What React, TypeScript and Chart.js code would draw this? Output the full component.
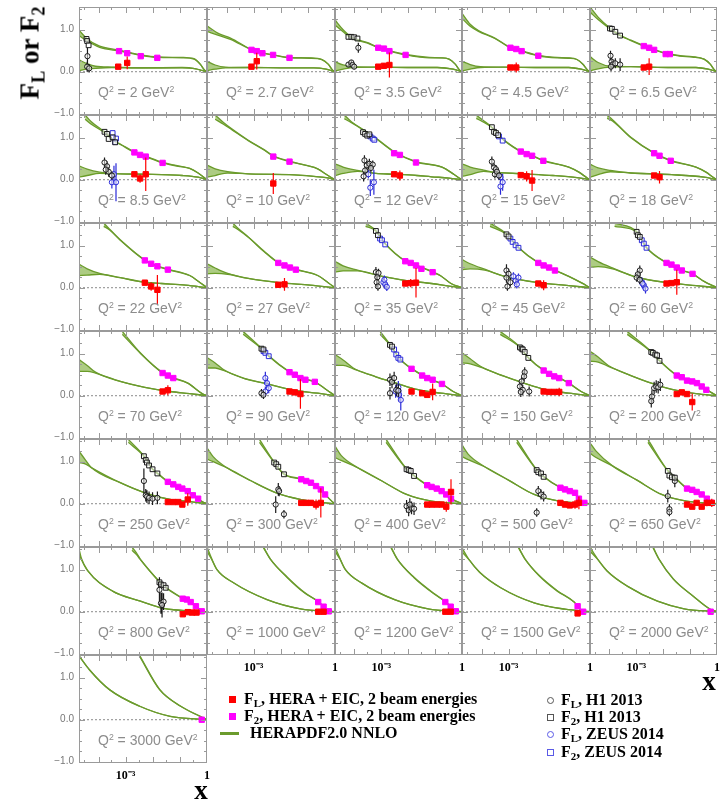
import React, { useEffect, useRef } from 'react';
import { Chart, registerables } from 'chart.js';

Chart.register(...registerables);

type XY = [number, number];
type XYE = [number, number, number];
type Band = [number, number, number][]; // [x, low, high]

// ---------- axes ----------
const X_MIN = 1.9e-5;
const X_MAX = 1;
const Y_MIN = -1.03;
const Y_MAX = 1.54;
const X_TICK_VALUES = [1e-3, 1];
const X_TICK_TEXT = ['10\u207B\u00B3', '1'];
const X_MAJOR = [1e-4, 1e-3, 1e-2, 1e-1];
const X_MINOR = [3e-5, 3e-4, 3e-3, 3e-2, 3e-1];
const Y_TICK_VALUES = [-1, 0, 1];
const Y_TICK_TEXT = ['\u22121.0', '0.0', '1.0'];
const Y_MINOR = [-0.75, -0.5, -0.25, 0.25, 0.5, 0.75, 1.25, 1.5];

// ---------- panels ----------
const Q2_LABELS = ['2', '2.7', '3.5', '4.5', '6.5', '8.5', '10', '12', '15', '18', '22', '27', '35', '45', '60',
  '70', '90', '120', '150', '200', '250', '300', '400', '500', '650', '800', '1000', '1200', '1500', '2000', '3000'];

// HERAPDF2.0 NNLO F2 band per panel
const F2_BANDS: Band[] = [
  [[1.9e-5,0.86,0.99],[3.8e-5,0.73,0.78],[1.1e-4,0.58,0.61],[6.3e-4,0.49,0.51],[3.6e-3,0.39,0.4],[0.0148,0.34,0.35],[0.12,0.33,0.34],[0.33,0.3,0.31],[0.56,0.18,0.18],[0.79,0.05,0.05],[1,0,0]],
  [[1.9e-5,0.96,1.09],[5.4e-5,0.86,0.9],[1.4e-4,0.77,0.8],[8.3e-4,0.52,0.53],[2.1e-3,0.44,0.45],[5.2e-3,0.4,0.4],[0.021,0.33,0.34],[0.12,0.32,0.33],[0.33,0.29,0.29],[0.56,0.18,0.18],[0.79,0.05,0.05],[1,0,0]],
  [[1.9e-5,1.11,1.23],[3.8e-5,0.95,1.0],[7.7e-5,0.8,0.83],[3.1e-4,0.68,0.69],[7.7e-4,0.57,0.58],[2.0e-3,0.49,0.5],[8.0e-3,0.4,0.41],[0.061,0.33,0.34],[0.165,0.33,0.33],[0.33,0.3,0.3],[0.56,0.18,0.18],[0.79,0.05,0.05],[1,0,0]],
  [[1.9e-5,1.27,1.39],[3.8e-5,1.08,1.13],[7.7e-5,0.96,0.98],[3.1e-4,0.79,0.8],[1.16e-3,0.57,0.58],[3.0e-3,0.49,0.5],[0.0124,0.38,0.39],[0.061,0.33,0.34],[0.165,0.32,0.33],[0.33,0.29,0.29],[0.56,0.17,0.17],[0.79,0.05,0.05],[1,0,0]],
  [[1.9e-5,1.42,1.54],[3.8e-5,1.24,1.3],[1.05e-4,1.02,1.04],[2.5e-4,0.86,0.87],[6.3e-4,0.74,0.75],[1.9e-3,0.61,0.62],[4.6e-3,0.52,0.53],[0.0124,0.43,0.44],[0.043,0.37,0.38],[0.12,0.35,0.36],[0.33,0.3,0.3],[0.56,0.18,0.18],[0.79,0.05,0.05],[1,0,0]],
  [[3.2e-5,1.44,1.54],[5.4e-5,1.32,1.38],[1.66e-4,1.12,1.14],[4.1e-4,0.9,0.91],[6.3e-4,0.84,0.85],[2.1e-3,0.65,0.66],[5.5e-3,0.55,0.56],[0.023,0.4,0.41],[0.087,0.32,0.33],[0.23,0.27,0.27],[0.47,0.16,0.16],[0.79,0.05,0.05],[1,0,0]],
  [[3.8e-5,1.44,1.54],[7.7e-5,1.32,1.36],[1.55e-4,1.19,1.21],[6.3e-4,0.93,0.94],[2.5e-3,0.7,0.71],[5.3e-3,0.56,0.57],[0.021,0.43,0.44],[0.087,0.34,0.34],[0.23,0.26,0.26],[0.47,0.13,0.13],[0.79,0.04,0.04],[1,0,0]],
  [[4.2e-5,1.45,1.54],[7.7e-5,1.36,1.38],[2.3e-4,1.17,1.18],[6.3e-4,0.98,0.99],[3.0e-3,0.66,0.67],[0.0195,0.42,0.43],[0.18,0.3,0.3],[0.47,0.14,0.14],[0.79,0.04,0.04],[1,0,0]],
  [[6.4e-5,1.46,1.54],[1.1e-4,1.38,1.42],[2.4e-4,1.24,1.25],[4.1e-4,1.06,1.07],[6.9e-4,0.93,0.94],[2.8e-3,0.67,0.68],[7.3e-3,0.57,0.58],[0.019,0.45,0.46],[0.165,0.3,0.3],[0.39,0.18,0.18],[0.79,0.04,0.04],[1,0,0]],
  [[8.2e-5,1.46,1.54],[1.3e-4,1.4,1.43],[6.3e-4,1.0,1.01],[4.6e-3,0.63,0.64],[0.019,0.45,0.46],[0.165,0.3,0.3],[0.39,0.18,0.18],[0.79,0.04,0.04],[1,0,0]],
  [[1.55e-4,1.46,1.54],[2.5e-4,1.38,1.4],[6.3e-4,1.13,1.14],[5.1e-3,0.65,0.66],[0.0148,0.51,0.52],[0.036,0.43,0.44],[0.23,0.29,0.29],[0.56,0.12,0.12],[0.79,0.05,0.05],[1,0,0]],
  [[1.7e-4,1.46,1.54],[2.7e-4,1.38,1.41],[6.3e-4,1.2,1.21],[2.5e-3,0.85,0.86],[8.1e-3,0.59,0.6],[0.0218,0.48,0.49],[0.036,0.43,0.44],[0.23,0.29,0.29],[0.56,0.12,0.12],[1,0,0]],
  [[2.6e-4,1.46,1.54],[6.3e-4,1.35,1.36],[9.0e-4,1.2,1.21],[1.35e-3,1.05,1.06],[7.8e-3,0.63,0.64],[0.0195,0.53,0.54],[0.081,0.37,0.38],[0.165,0.28,0.28],[0.39,0.1,0.1],[1,0,0]],
  [[2.05e-4,1.46,1.54],[8.3e-4,1.27,1.28],[1.16e-3,1.17,1.18],[2.3e-3,0.95,0.96],[0.0124,0.59,0.6],[0.051,0.41,0.42],[0.165,0.27,0.27],[0.47,0.12,0.12],[1,0,0]],
  [[1.55e-4,1.46,1.54],[1.03e-3,1.33,1.34],[1.35e-3,1.21,1.22],[2.4e-3,0.95,0.96],[0.0133,0.59,0.6],[0.049,0.41,0.42],[0.123,0.33,0.33],[0.33,0.15,0.15],[1,0,0]],
  [[7.5e-4,1.46,1.53],[3.6e-3,1.0,1.01],[0.023,0.54,0.55],[0.057,0.42,0.43],[0.195,0.3,0.3],[0.66,0.05,0.05],[1,0,0]],
  [[4.1e-4,1.46,1.53],[1.94e-3,1.12,1.13],[3.6e-3,0.94,0.95],[0.021,0.56,0.57],[0.053,0.42,0.43],[0.18,0.33,0.33],[0.47,0.15,0.15],[1,0,0]],
  [[9.0e-4,1.46,1.53],[2.1e-3,1.21,1.22],[5.1e-3,0.86,0.87],[0.0133,0.64,0.65],[0.051,0.42,0.43],[0.18,0.28,0.28],[0.47,0.1,0.1],[1,0,0]],
  [[4.9e-4,1.46,1.53],[2.6e-3,1.15,1.16],[5.3e-3,0.9,0.91],[0.0195,0.6,0.61],[0.073,0.42,0.43],[0.165,0.3,0.3],[0.47,0.1,0.1],[1,0,0]],
  [[4.6e-4,1.46,1.53],[3.6e-3,1.04,1.05],[7.3e-3,0.83,0.84],[0.032,0.48,0.49],[0.12,0.34,0.34],[0.27,0.22,0.22],[0.47,0.12,0.12],[1,0,0]],
  [[1.25e-3,1.46,1.53],[4.7e-3,1.13,1.14],[9.8e-3,0.82,0.83],[0.0148,0.72,0.73],[0.036,0.52,0.53],[0.123,0.36,0.37],[0.3,0.2,0.2],[0.66,0.05,0.05],[1,0,0]],
  [[1.64e-3,1.46,1.53],[5.7e-3,0.98,0.99],[0.0131,0.7,0.71],[0.057,0.58,0.59],[0.2,0.42,0.43],[0.43,0.22,0.22],[0.79,0.05,0.05],[1,0,0]],
  [[1.5e-3,1.46,1.53],[8.7e-3,0.82,0.83],[0.0165,0.66,0.67],[0.051,0.44,0.45],[0.175,0.3,0.31],[0.39,0.12,0.12],[1,0,0]],
  [[1.97e-3,1.46,1.53],[0.0108,0.8,0.81],[0.0195,0.64,0.65],[0.081,0.38,0.39],[0.28,0.26,0.26],[0.39,0.12,0.12],[0.62,0.02,0.02],[1,0,0]],
  [[2.7e-3,1.46,1.53],[0.0148,0.78,0.79],[0.027,0.62,0.63],[0.077,0.36,0.37],[0.27,0.22,0.22],[0.42,0.12,0.12],[0.64,0.02,0.02],[1,0,0]],
  [[1.7e-3,1.46,1.54],[2.5e-3,1.36,1.4],[3.4e-3,1.25,1.26],[0.0176,0.71,0.72],[0.03,0.57,0.58],[0.128,0.31,0.32],[0.39,0.13,0.13],[0.64,0.02,0.02],[1,0,0]],
  [[2.3e-3,1.52,1.54],[4.1e-3,1.25,1.26],[0.0175,0.81,0.82],[0.074,0.45,0.46],[0.23,0.25,0.25],[0.39,0.12,0.12],[0.59,0.02,0.02],[1,0,0]],
  [[2.3e-3,1.52,1.54],[3.9e-3,1.25,1.26],[0.0165,0.81,0.82],[0.098,0.41,0.42],[0.23,0.25,0.25],[0.38,0.12,0.12],[0.59,0.02,0.02],[1,0,0]],
  [[2.3e-3,1.52,1.54],[4.0e-3,1.25,1.26],[0.0135,0.85,0.86],[0.062,0.49,0.5],[0.26,0.23,0.23],[0.35,0.13,0.13],[0.56,0,0],[1,0,0]],
  [[4.2e-3,1.52,1.54],[6.9e-3,1.25,1.26],[0.024,0.77,0.78],[0.131,0.37,0.37],[0.56,0.06,0.06],[1,0,0]],
  [[3.2e-3,1.52,1.54],[0.018,0.71,0.72],[0.107,0.32,0.32],[0.56,0.08,0.08],[1,0,0]],
];

// HERAPDF2.0 NNLO FL band per panel
const FL_BANDS: Band[] = [
  [[1.9e-5,0.03,0.28],[3.8e-5,0.06,0.19],[7.7e-5,0.08,0.13],[3.1e-4,0.1,0.11],[3.6e-3,0.085,0.095],[0.12,0.09,0.1],[0.39,0.07,0.07],[0.66,0.03,0.03],[1,0,0]],
  [[1.9e-5,0.03,0.25],[3.8e-5,0.06,0.16],[9.1e-5,0.09,0.11],[6.3e-4,0.1,0.1],[0.021,0.09,0.09],[0.165,0.09,0.09],[0.47,0.06,0.06],[0.79,0.02,0.02],[1,0,0]],
  [[1.9e-5,0.02,0.24],[3.8e-5,0.06,0.16],[9.1e-5,0.1,0.12],[6.3e-4,0.11,0.11],[0.021,0.1,0.1],[0.12,0.1,0.1],[0.47,0.06,0.06],[0.79,0.02,0.02],[1,0,0]],
  [[1.9e-5,0.02,0.25],[3.8e-5,0.06,0.17],[9.1e-5,0.1,0.12],[6.3e-4,0.11,0.11],[0.021,0.1,0.1],[0.165,0.1,0.1],[0.47,0.06,0.06],[0.79,0.02,0.02],[1,0,0]],
  [[1.9e-5,0.02,0.36],[3.8e-5,0.07,0.22],[1.1e-4,0.11,0.13],[6.3e-4,0.12,0.12],[0.021,0.1,0.1],[0.165,0.1,0.1],[0.47,0.06,0.06],[0.79,0.02,0.02],[1,0,0]],
  [[1.9e-5,0.06,0.33],[3.8e-5,0.1,0.25],[1.1e-4,0.15,0.18],[6.3e-4,0.14,0.14],[5.1e-3,0.13,0.13],[0.12,0.1,0.1],[0.47,0.06,0.06],[0.79,0.02,0.02],[1,0,0]],
  [[1.9e-5,0.06,0.35],[3.8e-5,0.1,0.26],[1.1e-4,0.16,0.19],[6.3e-4,0.14,0.14],[0.021,0.12,0.12],[0.165,0.08,0.08],[0.47,0.05,0.05],[0.79,0.02,0.02],[1,0,0]],
  [[1.9e-5,0.1,0.38],[3.8e-5,0.15,0.3],[1.3e-4,0.2,0.22],[6.3e-4,0.15,0.15],[3.0e-3,0.13,0.13],[0.021,0.1,0.1],[0.073,0.07,0.07],[0.33,0.04,0.04],[1,0,0]],
  [[1.9e-5,0.08,0.38],[3.8e-5,0.12,0.3],[1.2e-4,0.2,0.23],[2.6e-4,0.18,0.18],[3.6e-3,0.14,0.14],[0.043,0.1,0.1],[0.33,0.05,0.05],[1,0,0]],
  [[1.9e-5,0.06,0.37],[3.8e-5,0.12,0.28],[1.1e-4,0.19,0.22],[6.3e-4,0.16,0.16],[0.021,0.12,0.12],[0.33,0.06,0.06],[1,0,0]],
  [[1.9e-5,0.29,0.56],[3.8e-5,0.3,0.45],[1.1e-4,0.32,0.34],[6.3e-4,0.24,0.24],[5.1e-3,0.13,0.13],[0.021,0.1,0.1],[0.165,0.06,0.06],[1,0,0]],
  [[1.9e-5,0.33,0.57],[3.8e-5,0.34,0.47],[1.1e-4,0.32,0.34],[6.3e-4,0.22,0.22],[8.7e-3,0.12,0.12],[0.12,0.06,0.06],[1,0,0]],
  [[1.9e-5,0.37,0.63],[3.8e-5,0.4,0.52],[1.3e-4,0.4,0.42],[1.1e-3,0.27,0.27],[8.7e-3,0.17,0.17],[0.073,0.1,0.1],[0.33,0.04,0.04],[1,0,0]],
  [[1.9e-5,0.43,0.67],[3.8e-5,0.45,0.57],[1.3e-4,0.42,0.44],[9.0e-4,0.25,0.25],[0.0124,0.12,0.12],[0.165,0.05,0.05],[1,0,0]],
  [[1.9e-5,0.48,0.73],[3.8e-5,0.5,0.62],[1.3e-4,0.45,0.47],[9.0e-4,0.26,0.26],[0.0148,0.12,0.12],[0.165,0.05,0.05],[1,0,0]],
  [[1.9e-5,0.58,0.86],[3.8e-5,0.58,0.72],[7.7e-5,0.54,0.56],[6.3e-4,0.34,0.34],[5.1e-3,0.2,0.2],[0.043,0.1,0.1],[0.23,0.05,0.05],[1,0,0]],
  [[1.9e-5,0.66,0.91],[3.8e-5,0.66,0.78],[7.7e-5,0.6,0.62],[4.1e-4,0.42,0.42],[3.3e-3,0.28,0.28],[0.025,0.14,0.14],[0.23,0.06,0.06],[1,0,0]],
  [[1.9e-5,0.72,0.98],[3.8e-5,0.72,0.85],[9.1e-5,0.64,0.66],[6.3e-4,0.45,0.45],[3.6e-3,0.3,0.3],[0.021,0.15,0.15],[0.165,0.06,0.06],[1,0,0]],
  [[1.9e-5,0.78,1.02],[3.8e-5,0.76,0.88],[9.1e-5,0.68,0.7],[6.3e-4,0.47,0.47],[3.6e-3,0.3,0.3],[0.021,0.15,0.15],[0.165,0.06,0.06],[1,0,0]],
  [[1.9e-5,0.82,1.06],[3.8e-5,0.8,0.92],[9.1e-5,0.7,0.72],[6.3e-4,0.48,0.48],[3.6e-3,0.3,0.3],[0.021,0.15,0.15],[0.165,0.05,0.05],[1,0,0]],
  [[1.9e-5,0.98,1.25],[3.2e-5,0.95,1.05],[5.4e-5,0.86,0.86],[6.3e-4,0.5,0.5],[5.1e-3,0.26,0.26],[0.043,0.1,0.1],[0.33,0.04,0.04],[1,0,0]],
  [[1.9e-5,1.06,1.33],[3.2e-5,1.0,1.12],[1.0e-4,0.86,0.86],[8.3e-4,0.54,0.54],[6.8e-3,0.26,0.26],[0.057,0.1,0.1],[0.33,0.03,0.03],[1,0,0]],
  [[1.9e-5,1.1,1.37],[3.2e-5,1.03,1.15],[1.3e-4,0.86,0.86],[1.06e-3,0.54,0.54],[8.7e-3,0.22,0.22],[0.073,0.06,0.06],[1,0,0]],
  [[1.9e-5,1.12,1.4],[3.2e-5,1.05,1.18],[1.3e-4,0.88,0.88],[1.06e-3,0.55,0.55],[8.7e-3,0.22,0.22],[0.073,0.06,0.06],[1,0,0]],
  [[1.9e-5,1.2,1.45],[3.2e-5,1.1,1.25],[1.3e-4,0.9,0.9],[1.06e-3,0.56,0.56],[8.7e-3,0.22,0.22],[0.073,0.06,0.06],[1,0,0]],
  [[1.9e-5,1.38,1.5],[2.3e-5,1.25,1.28],[4.0e-5,0.97,0.98],[3.3e-4,0.49,0.49],[3.5e-3,0.25,0.25],[0.018,0.1,0.1],[0.12,0.03,0.03],[1,0,0]],
  [[1.9e-5,1.44,1.54],[2.8e-5,1.25,1.27],[4.4e-5,1.0,1.01],[1.8e-4,0.69,0.69],[3.1e-3,0.29,0.29],[0.053,0.07,0.07],[1,0,0]],
  [[1.9e-5,1.44,1.54],[2.9e-5,1.25,1.27],[4.6e-5,1.0,1.01],[1.9e-4,0.68,0.68],[3.3e-3,0.28,0.28],[0.055,0.07,0.07],[1,0,0]],
  [[1.9e-5,1.42,1.52],[3.3e-5,1.25,1.26],[9.1e-5,0.92,0.92],[5.1e-4,0.57,0.57],[8.7e-3,0.21,0.21],[0.12,0.06,0.06],[1,0,0]],
  [[1.9e-5,1.44,1.54],[3.6e-5,1.25,1.26],[8.2e-5,0.97,0.97],[4.6e-4,0.61,0.61],[6.1e-3,0.25,0.25],[0.06,0.07,0.07],[1,0,0]],
  [[1.95e-5,1.51,1.51],[4.6e-5,1.19,1.19],[2.6e-4,0.71,0.71],[3.3e-3,0.32,0.32],[0.044,0.08,0.08],[1,0,0]],
];

// F2, HERA + EIC (magenta)
const EIC_F2: XY[][] = [
  [[5.7e-4,0.49],[1.14e-3,0.44],[3.6e-3,0.37],[0.0147,0.33]],
  [[8.3e-4,0.52],[1.3e-3,0.49],[2.1e-3,0.44],[5.2e-3,0.4],[0.021,0.33]],
  [[7.7e-4,0.57],[1.25e-3,0.55],[2.0e-3,0.49],[8.0e-3,0.4]],
  [[1.16e-3,0.57],[1.9e-3,0.54],[3.0e-3,0.49],[0.0124,0.38]],
  [[1.9e-3,0.61],[3.0e-3,0.57],[4.6e-3,0.52],[0.0124,0.42],[0.0176,0.42]],
  [[2.1e-3,0.65],[3.4e-3,0.59],[5.5e-3,0.55],[0.023,0.4]],
  [[5.3e-3,0.55],[0.021,0.43]],
  [[3.0e-3,0.63],[4.9e-3,0.59],[0.0195,0.41]],
  [[2.8e-3,0.67],[4.6e-3,0.61],[7.3e-3,0.57],[0.019,0.45]],
  [[4.6e-3,0.63],[7.3e-3,0.57],[0.019,0.45]],
  [[5.1e-3,0.65],[8.7e-3,0.57],[0.0148,0.51],[0.036,0.43]],
  [[8.1e-3,0.59],[0.0137,0.53],[0.0218,0.48],[0.036,0.43]],
  [[7.8e-3,0.63],[0.0124,0.59],[0.0195,0.53],[0.031,0.45],[0.081,0.37]],
  [[0.0124,0.59],[0.0195,0.53],[0.031,0.48],[0.051,0.41]],
  [[0.0133,0.59],[0.0203,0.55],[0.032,0.48],[0.049,0.41],[0.123,0.33]],
  [[0.023,0.54],[0.036,0.48],[0.057,0.42]],
  [[0.021,0.56],[0.033,0.5],[0.053,0.42],[0.081,0.38],[0.18,0.33]],
  [[0.0133,0.64],[0.033,0.48],[0.051,0.42],[0.081,0.38],[0.18,0.28]],
  [[0.0195,0.6],[0.031,0.52],[0.048,0.46],[0.073,0.42],[0.165,0.3]],
  [[0.032,0.48],[0.049,0.44],[0.077,0.36],[0.12,0.34],[0.18,0.3],[0.27,0.22],[0.4,0.14]],
  [[0.036,0.52],[0.057,0.46],[0.087,0.4],[0.123,0.36],[0.195,0.3],[0.3,0.2],[0.47,0.12]],
  [[0.057,0.58],[0.087,0.54],[0.13,0.5],[0.2,0.42],[0.3,0.34],[0.43,0.22]],
  [[0.051,0.44],[0.074,0.4],[0.115,0.36],[0.175,0.3],[0.26,0.22],[0.39,0.12]],
  [[0.081,0.38],[0.12,0.34],[0.18,0.3],[0.28,0.26],[0.39,0.12],[0.62,0.02]],
  [[0.077,0.36],[0.12,0.33],[0.175,0.28],[0.27,0.22],[0.42,0.12],[0.64,0.02]],
  [[0.128,0.31],[0.18,0.29],[0.25,0.23],[0.39,0.13],[0.64,0.01]],
  [[0.24,0.23],[0.38,0.12],[0.59,0.01]],
  [[0.24,0.23],[0.38,0.12],[0.59,0.01]],
  [[0.35,0.13],[0.56,0.0]],
  [[0.58,0.0]],
  [[0.64,0.0]],
];

// FL, HERA + EIC (red) [x, y, error]
const EIC_FL: XYE[][] = [
  [[5.3e-4,0.12,0.03],[1.14e-3,0.21,0.15]],
  [[8.3e-4,0.12,0.03],[1.3e-3,0.25,0.2]],
  [[7.7e-4,0.12,0.03],[1.25e-3,0.14,0.07],[2.0e-3,0.16,0.3]],
  [[1.16e-3,0.1,0.03],[1.9e-3,0.1,0.12]],
  [[1.9e-3,0.1,0.03],[3.0e-3,0.12,0.2]],
  [[2.1e-3,0.13,0.03],[3.4e-3,0.03,0.1],[5.5e-3,0.13,0.4]],
  [[5.3e-3,-0.09,0.25]],
  [[3.0e-3,0.13,0.03],[4.9e-3,0.1,0.12]],
  [[2.8e-3,0.11,0.03],[4.6e-3,0.08,0.12],[7.3e-3,-0.02,0.25]],
  [[4.6e-3,0.1,0.03],[7.3e-3,0.06,0.15]],
  [[5.1e-3,0.12,0.03],[8.7e-3,0.03,0.1],[0.0148,-0.05,0.35]],
  [[8.1e-3,0.07,0.04],[0.0137,0.08,0.15]],
  [[7.8e-3,0.1,0.04],[0.0124,0.11,0.1],[0.0195,0.12,0.35]],
  [[0.0124,0.1,0.03],[0.0195,0.06,0.12]],
  [[0.0133,0.1,0.03],[0.0203,0.11,0.04],[0.032,0.13,0.3]],
  [[0.023,0.1,0.03],[0.036,0.13,0.12]],
  [[0.021,0.1,0.03],[0.033,0.08,0.04],[0.053,0.04,0.35]],
  [[0.0133,0.1,0.03],[0.033,0.06,0.03],[0.051,0.02,0.04],[0.081,0.09,0.2]],
  [[0.0195,0.1,0.03],[0.031,0.09,0.03],[0.048,0.09,0.04],[0.073,0.09,0.1]],
  [[0.032,0.04,0.03],[0.049,0.08,0.03],[0.077,0.04,0.05],[0.12,-0.15,0.2]],
  [[0.036,0.04,0.03],[0.057,0.04,0.03],[0.087,0.04,0.03],[0.123,-0.02,0.06],[0.195,0.1,0.15]],
  [[0.057,0.02,0.03],[0.087,0.02,0.03],[0.13,0.02,0.05],[0.2,-0.02,0.12],[0.3,0.02,0.35]],
  [[0.051,-0.02,0.03],[0.074,-0.02,0.03],[0.115,-0.02,0.04],[0.175,-0.02,0.06],[0.26,-0.07,0.12],[0.39,0.28,0.3]],
  [[0.081,0.02,0.03],[0.12,-0.02,0.04],[0.18,-0.04,0.06],[0.28,-0.02,0.1],[0.39,0.02,0.15]],
  [[0.077,-0.02,0.04],[0.12,-0.07,0.05],[0.175,0.02,0.05],[0.27,-0.07,0.06],[0.42,0.02,0.08],[0.64,0.02,0.1]],
  [[0.128,-0.06,0.03],[0.195,-0.01,0.03],[0.28,-0.02,0.03],[0.41,-0.02,0.04]],
  [[0.24,0.0,0.02],[0.38,0.0,0.02]],
  [[0.24,0.0,0.02],[0.38,0.0,0.02]],
  [[0.35,-0.04,0.02]],
  [],
  [],
];

// F2, H1 2013 (black open squares)
const H1_F2: XY[][] = [
  [[3.6e-5,0.78],[3.8e-5,0.73],[4.3e-5,0.63]], [],
  [[6.0e-5,0.83],[7.7e-5,0.83],[9.8e-5,0.82],[1.3e-4,0.79]], [],
  [[1.05e-4,1.03],[1.24e-4,1.02],[1.66e-4,0.95],[2.5e-4,0.86]],
  [[1.66e-4,1.14],[2.05e-4,1.09],[2.36e-4,0.97],[3.3e-4,1.01],[4.1e-4,0.89]], [],
  [[2.1e-4,1.13],[2.5e-4,1.09],[3.0e-4,1.05],[3.6e-4,1.08]],
  [[2.4e-4,1.25],[2.9e-4,1.14],[3.4e-4,1.11],[4.1e-4,1.06]], [],
  [], [],
  [[6.3e-4,1.35],[7.5e-4,1.25]],
  [[8.3e-4,1.27],[9.9e-4,1.22]],
  [[1.03e-3,1.33],[1.14e-3,1.25],[1.35e-3,1.21]],
  [],
  [[1.94e-3,1.12],[2.3e-3,1.1]],
  [[2.1e-3,1.21],[2.5e-3,1.17]],
  [[2.6e-3,1.15],[3.0e-3,1.12],[3.3e-3,1.1],[3.9e-3,1.04],[5.3e-3,0.9]],
  [[3.6e-3,1.04],[4.1e-3,1.02],[5.1e-3,0.98],[5.9e-3,0.96],[7.3e-3,0.83]],
  [[4.7e-3,1.13],[5.5e-3,1.04],[6.1e-3,0.98],[7.3e-3,0.91],[9.8e-3,0.82],[0.0148,0.72]],
  [[5.7e-3,0.98],[6.8e-3,0.94],[8.1e-3,0.88],[0.0131,0.7]],
  [[8.7e-3,0.82],[0.0104,0.8],[0.0124,0.78],[0.0165,0.66]],
  [[0.0108,0.8],[0.0124,0.75],[0.0156,0.72],[0.0195,0.64]],
  [[0.0148,0.78],[0.017,0.67],[0.021,0.63],[0.027,0.62]],
  [[0.0176,0.7],[0.02,0.65],[0.025,0.63],[0.03,0.57]],
  [], [], [], [], [],
];

// FL, H1 2013 (black open circles) [x, y, error]
const H1_FL: XYE[][] = [
  [[3.9e-5,0.37,0.2],[3.8e-5,0.12,0.12],[4.5e-5,0.08,0.1]], [],
  [[1.4e-4,0.57,0.12],[6.0e-5,0.17,0.06],[7.7e-5,0.22,0.06],[8.5e-5,0.16,0.06],[9.8e-5,0.12,0.06]], [],
  [[1.1e-4,0.38,0.12],[1.2e-4,0.24,0.1],[1.3e-4,0.17,0.1],[1.15e-4,0.12,0.1],[1.66e-4,0.2,0.12],[2.5e-4,0.17,0.15]],
  [[1.66e-4,0.41,0.12],[2.05e-4,0.32,0.12],[2.36e-4,0.19,0.12],[1.84e-4,0.24,0.12],[3.1e-4,0.1,0.1]], [],
  [[2.36e-4,0.46,0.12],[2.9e-4,0.34,0.12],[3.6e-4,0.38,0.12],[4.8e-4,0.36,0.1],[2.2e-4,0.08,0.12],[2.5e-4,0.22,0.1],[4.1e-4,0.28,0.1]],
  [[2.4e-4,0.43,0.12],[2.9e-4,0.29,0.1],[3.4e-4,0.25,0.1],[3.1e-4,0.13,0.1],[3.7e-4,0.19,0.1],[4.4e-4,0.1,0.1]], [],
  [], [],
  [[6.3e-4,0.37,0.12],[7.9e-4,0.35,0.1],[7.1e-4,0.25,0.1],[6.7e-4,0.13,0.12],[7.5e-4,0.03,0.1]],
  [[8.3e-4,0.41,0.15],[9.9e-4,0.33,0.12],[8.3e-4,0.24,0.12],[1.16e-3,0.13,0.1],[9.0e-4,0.03,0.1]],
  [[1.35e-3,0.41,0.12],[1.14e-3,0.32,0.1],[1.03e-3,0.24,0.1],[1.35e-3,0.19,0.1]],
  [],
  [[1.94e-3,0.06,0.1],[2.3e-3,0.02,0.1]],
  [[2.1e-3,0.38,0.15],[2.5e-3,0.33,0.15],[3.0e-3,0.42,0.15],[3.6e-3,0.14,0.15],[2.1e-3,0.06,0.15],[4.3e-3,0.12,0.15]],
  [[3.9e-3,0.56,0.12],[3.7e-3,0.46,0.12],[3.0e-3,0.34,0.12],[2.6e-3,0.22,0.12],[3.3e-3,0.14,0.12],[2.8e-3,0.09,0.12],[5.7e-3,0.1,0.12]],
  [[3.8e-3,-0.02,0.15],[3.6e-3,-0.13,0.15],[4.6e-3,0.18,0.15],[5.5e-3,0.22,0.15],[6.5e-3,0.2,0.15],[7.8e-3,0.26,0.15]],
  [[4.7e-3,0.54,0.3],[5.5e-3,0.2,0.15],[6.1e-3,0.17,0.15],[7.3e-3,0.14,0.15],[9.8e-3,0.12,0.15],[0.0148,0.14,0.15]],
  [[8.1e-3,0.34,0.15],[8.7e-3,0.3,0.12],[6.5e-3,-0.02,0.2],[0.0131,-0.25,0.1]],
  [[8.7e-3,-0.06,0.15],[0.0104,-0.15,0.15],[0.0133,-0.1,0.15],[0.0165,-0.12,0.15],[0.0115,-0.02,0.15]],
  [[0.0124,0.3,0.12],[0.0156,0.22,0.12],[0.0195,0.17,0.12],[0.0108,-0.21,0.1]],
  [[0.0148,0.18,0.15],[0.027,0.54,0.15],[0.017,-0.13,0.12],[0.017,-0.2,0.1]],
  [[0.0176,0.52,0.3],[0.02,0.2,0.25],[0.025,0.24,0.2],[0.022,0.16,0.3]],
  [], [], [], [], [],
];

// F2, ZEUS 2014 (blue open squares)
const ZEUS_F2: XY[][] = [
  [], [], [], [], [],
  [[3.3e-4,1.11],[4.1e-4,0.9],[4.4e-4,0.98]], [],
  [[3.9e-4,1.03],[4.8e-4,0.98],[5.5e-4,0.95]],
  [[4.4e-4,1.03],[6.0e-4,0.93]], [],
  [], [],
  [[9.0e-4,1.17],[1.06e-3,1.13],[1.4e-3,1.03]],
  [[1.16e-3,1.17],[1.4e-3,1.09],[1.8e-3,1.01],[2.3e-3,0.95]],
  [[1.6e-3,1.13],[1.9e-3,1.05],[2.4e-3,0.95]],
  [],
  [[2.3e-3,1.06],[2.7e-3,1.02],[3.6e-3,0.94]],
  [[3.0e-3,1.1],[3.6e-3,0.98],[4.3e-3,0.9],[5.1e-3,0.86]],
  [], [],
  [], [], [], [], [], [], [], [], [], [], [],
];

// FL, ZEUS 2014 (blue open circles) [x, y, error]
const ZEUS_FL: XYE[][] = [
  [], [], [], [], [],
  [[3.1e-4,-0.06,0.15],[4.4e-4,-0.06,0.45],[3.7e-4,0.13,0.2]], [],
  [[3.3e-4,0.13,0.1],[3.9e-4,-0.19,0.2],[5.3e-4,-0.06,0.3]],
  [[5.0e-4,0.06,0.1],[6.0e-4,-0.06,0.2],[5.0e-4,-0.16,0.2]], [],
  [], [],
  [[1.2e-3,0.13,0.1],[1.4e-3,0.08,0.1],[1.6e-3,0.02,0.1],[1.3e-3,0.19,0.1]],
  [[1.5e-3,0.27,0.1],[1.8e-3,0.17,0.1],[2.3e-3,0.24,0.1],[2.0e-3,0.08,0.1]],
  [[1.6e-3,0.13,0.12],[1.9e-3,0.06,0.12],[2.2e-3,-0.02,0.12],[1.7e-3,0.1,0.12]],
  [],
  [[2.7e-3,0.42,0.15],[3.1e-3,0.3,0.12],[3.6e-3,0.18,0.12],[2.7e-3,0.1,0.12]],
  [[3.4e-3,0.1,0.15],[4.3e-3,0.2,0.15],[4.6e-3,0.02,0.15],[5.3e-3,-0.1,0.25]],
  [], [],
  [], [], [], [], [], [], [], [], [], [], [],
];

// ---------- styling ----------
const GREEN_LINE = '#6b9b2d';
const GREEN_FILL = 'rgba(105,163,30,0.55)';
const FRAME = '#9a9a9a';
const RED = '#ff0000';
const MAGENTA = '#ff00ff';
const BLACK = '#1a1a1a';
const BLUE = '#2a2ad8';
const SERIF = '"Liberation Serif", "Times New Roman", serif';
const SANS = '"Liberation Sans", Arial, sans-serif';

const PANEL_X0 = 79.3;
const PANEL_W = 127.6;
const PANEL_Y0 = 7;
const PANEL_H = 108;

function geom(i: number) {
  const r = i < 30 ? Math.floor(i / 5) : 6;
  const c = i < 30 ? i % 5 : 0;
  const left = Math.round(PANEL_X0 + c * PANEL_W);
  const right = Math.round(PANEL_X0 + (c + 1) * PANEL_W);
  const top = PANEL_Y0 + r * PANEL_H;
  const showY = c === 0;
  const showX = (r === 5 && c > 0) || r === 6;
  return { r, c, left, top, w: right - left, showY, showX };
}

const framePlugin = {
  id: 'panelFrame',
  afterDatasetsDraw(chart: any) {
    const { ctx, chartArea: a, scales } = chart;
    const xs = scales.x;
    const ys = scales.y;
    ctx.save();
    ctx.strokeStyle = FRAME;
    ctx.lineWidth = 1;
    ctx.strokeRect(a.left + 0.5, a.top + 0.5, a.right - a.left - 1, a.bottom - a.top - 1);
    ctx.beginPath();
    const tx = (v: number, len: number) => {
      const px = Math.round(xs.getPixelForValue(v)) + 0.5;
      ctx.moveTo(px, a.bottom); ctx.lineTo(px, a.bottom - len);
      ctx.moveTo(px, a.top); ctx.lineTo(px, a.top + len);
    };
    const ty = (v: number, len: number) => {
      const py = Math.round(ys.getPixelForValue(v)) + 0.5;
      ctx.moveTo(a.left, py); ctx.lineTo(a.left + len, py);
      ctx.moveTo(a.right, py); ctx.lineTo(a.right - len, py);
    };
    X_MAJOR.forEach((v) => tx(v, 6));
    X_MINOR.forEach((v) => tx(v, 3));
    Y_TICK_VALUES.forEach((v) => ty(v, 6));
    Y_MINOR.forEach((v) => ty(v, 3));
    ctx.stroke();
    ctx.restore();
  },
};

const errorBarPlugin = {
  id: 'errorBars',
  beforeDatasetDraw(chart: any, args: any) {
    const ds = chart.data.datasets[args.index];
    if (!ds.errs) return;
    const { ctx, chartArea: a } = chart;
    const ys = chart.scales.y;
    ctx.save();
    ctx.beginPath();
    ctx.rect(a.left, a.top, a.right - a.left, a.bottom - a.top);
    ctx.clip();
    ctx.strokeStyle = ds.errColor;
    ctx.lineWidth = 1.2;
    ctx.beginPath();
    args.meta.data.forEach((pt: any, j: number) => {
      const d = ds.data[j];
      const e = ds.errs[j];
      ctx.moveTo(pt.x, ys.getPixelForValue(d.y + e));
      ctx.lineTo(pt.x, ys.getPixelForValue(d.y - e));
    });
    ctx.stroke();
    ctx.restore();
  },
};

function bandSets(band: Band) {
  return [
    {
      type: 'line', data: band.map((p) => ({ x: p[0], y: p[2] })), borderColor: GREEN_LINE, borderWidth: 1.3,
      pointRadius: 0, fill: '+1', backgroundColor: GREEN_FILL, cubicInterpolationMode: 'monotone', order: 10,
    },
    {
      type: 'line', data: band.map((p) => ({ x: p[0], y: p[1] })), borderColor: GREEN_LINE, borderWidth: 1.3,
      pointRadius: 0, fill: false, cubicInterpolationMode: 'monotone', order: 10,
    },
  ];
}

function markerSet(pts: number[][], style: string, radius: number, fill: string, border: string, withErr: boolean, order: number) {
  return {
    type: 'line', showLine: false,
    data: pts.map((p) => ({ x: p[0], y: p[1] })),
    pointStyle: style, pointRadius: radius,
    pointBackgroundColor: fill, pointBorderColor: border, pointBorderWidth: 1,
    borderColor: border, backgroundColor: fill,
    errs: withErr ? pts.map((p) => p[2]) : undefined,
    errColor: border, order,
  };
}

function buildDatasets(i: number) {
  return [
    ...bandSets(F2_BANDS[i]),
    ...bandSets(FL_BANDS[i]),
    {
      type: 'line', data: [{ x: X_MIN, y: 0 }, { x: X_MAX, y: 0 }], borderColor: '#8a8a8a', borderWidth: 1,
      borderDash: [2, 2], pointRadius: 0, fill: false, order: 11,
    },
    markerSet(ZEUS_F2[i], 'rect', 3.4, 'rgba(255,255,255,0.5)', BLUE, false, 4),
    markerSet(ZEUS_FL[i], 'circle', 2.6, 'rgba(255,255,255,0.5)', BLUE, true, 4),
    markerSet(H1_F2[i], 'rect', 3.4, 'rgba(255,255,255,0.5)', BLACK, false, 3),
    markerSet(H1_FL[i], 'circle', 2.6, 'rgba(255,255,255,0.5)', BLACK, true, 3),
    markerSet(EIC_F2[i], 'rect', 3.8, MAGENTA, MAGENTA, false, 1),
    markerSet(EIC_FL[i], 'rect', 3.8, RED, RED, true, 0),
  ];
}

function Panel({ i }: { i: number }) {
  const ref = useRef<HTMLCanvasElement>(null);
  const g = geom(i);
  const L = g.showY ? 34 : 0;
  const R = g.showX ? (g.c === 4 ? 4 : 6) : 0;
  const B = g.showX ? 22 : g.showY ? 6 : 0;
  const cw = g.w + L + R;
  const ch = PANEL_H + B;

  useEffect(() => {
    if (!ref.current) return;
    const chart = new Chart(ref.current, {
      type: 'line',
      data: { datasets: buildDatasets(i) as any },
      options: {
        animation: false,
        responsive: false,
        maintainAspectRatio: false,
        devicePixelRatio: 1,
        events: [],
        layout: { autoPadding: false, padding: { left: 0, right: R, top: 0, bottom: g.showX ? 0 : B } },
        plugins: { legend: { display: false }, tooltip: { enabled: false }, title: { display: false } },
        scales: {
          x: {
            type: 'logarithmic',
            min: X_MIN,
            max: X_MAX,
            grid: { display: false, drawTicks: false },
            border: { display: false },
            afterBuildTicks: (s: any) => { s.ticks = X_TICK_VALUES.map((v) => ({ value: v })); },
            afterFit: (s: any) => { s.height = g.showX ? 22 : 0; s.paddingLeft = 0; s.paddingRight = 0; },
            ticks: {
              display: g.showX, autoSkip: false, maxRotation: 0, minRotation: 0, padding: 6, color: '#000',
              font: { family: SERIF, size: 12, weight: 'bold' },
              callback: (_v: any, idx: number) => X_TICK_TEXT[idx] ?? '',
            },
          },
          y: {
            type: 'linear',
            min: Y_MIN,
            max: Y_MAX,
            grid: { display: false, drawTicks: false },
            border: { display: false },
            afterBuildTicks: (s: any) => { s.ticks = Y_TICK_VALUES.map((v) => ({ value: v })); },
            afterFit: (s: any) => { s.width = g.showY ? 34 : 0; s.paddingTop = 0; s.paddingBottom = 0; },
            ticks: {
              display: g.showY, padding: 5, color: '#777',
              font: { family: SANS, size: 10 },
              callback: (_v: any, idx: number) => Y_TICK_TEXT[idx] ?? '',
            },
          },
        },
      } as any,
      plugins: [errorBarPlugin, framePlugin],
    });
    return () => chart.destroy();
  }, []);

  return (
    <canvas
      ref={ref}
      width={cw}
      height={ch}
      style={{ position: 'absolute', left: g.left - L, top: g.top, width: cw, height: ch }}
    />
  );
}

const supStyle: React.CSSProperties = { fontSize: '0.62em', position: 'relative', top: '-0.55em', verticalAlign: 'baseline' };
const subStyle: React.CSSProperties = { fontSize: '0.68em', position: 'relative', top: '0.3em', verticalAlign: 'baseline' };

function LegendRow({ x, y, marker, children }: { x: number; y: number; marker: React.ReactNode; children: React.ReactNode }) {
  return (
    <>
      {marker}
      <div style={{ position: 'absolute', left: x, top: y - 10, font: `bold 16px ${SERIF}`, lineHeight: '20px', whiteSpace: 'nowrap', color: '#000' }}>
        {children}
      </div>
    </>
  );
}

const sq = (cx: number, cy: number, color: string, open = false, size = 7): React.ReactNode => (
  <div style={{
    position: 'absolute', left: cx - size / 2, top: cy - size / 2, width: size, height: size, boxSizing: 'border-box',
    background: open ? 'transparent' : color, border: open ? `1px solid ${color}` : 'none',
  }} />
);
const circ = (cx: number, cy: number, color: string): React.ReactNode => (
  <div style={{
    position: 'absolute', left: cx - 3.5, top: cy - 3.5, width: 7, height: 7, boxSizing: 'border-box',
    border: `1px solid ${color}`, borderRadius: '50%',
  }} />
);

export default function App() {
  return (
    <div style={{ position: 'absolute', left: 0, top: 0, width: 722, height: 806, overflow: 'hidden', background: '#fff' }}>
      {Q2_LABELS.map((_q, i) => <Panel key={i} i={i} />)}
      {Q2_LABELS.map((q, i) => {
        const g = geom(i);
        return (
          <div key={'q' + i} style={{ position: 'absolute', left: g.left + 19, top: g.top + 77, font: `14px ${SANS}`, lineHeight: '16px', color: '#8c8c8c', whiteSpace: 'nowrap' }}>
            Q<span style={supStyle}>2</span> = {q} GeV<span style={supStyle}>2</span>
          </div>
        );
      })}

      {/* y-axis title */}
      <div style={{ position: 'absolute', left: 31, top: 53, transform: 'translate(-50%, -50%) rotate(-90deg)', font: `bold 27px ${SERIF}`, lineHeight: '30px', whiteSpace: 'nowrap', color: '#000' }}>
        F<span style={subStyle}>L</span> or F<span style={subStyle}>2</span>
      </div>

      {/* x-axis titles */}
      <div style={{ position: 'absolute', left: 709, top: 681, transform: 'translate(-50%, -50%)', font: `bold 27px ${SERIF}`, lineHeight: '27px', color: '#000' }}>x</div>
      <div style={{ position: 'absolute', left: 201, top: 790, transform: 'translate(-50%, -50%)', font: `bold 27px ${SERIF}`, lineHeight: '27px', color: '#000' }}>x</div>

      {/* legend, left block */}
      <LegendRow x={244} y={699} marker={sq(232.5, 699.5, RED)}>
        F<span style={subStyle}>L</span>, HERA + EIC, 2 beam energies
      </LegendRow>
      <LegendRow x={244} y={716} marker={sq(232.5, 716, MAGENTA)}>
        F<span style={subStyle}>2</span>, HERA + EIC, 2 beam energies
      </LegendRow>
      <LegendRow x={250} y={733} marker={<div style={{ position: 'absolute', left: 220, top: 731.5, width: 19, height: 3, background: GREEN_LINE }} />}>
        HERAPDF2.0 NNLO
      </LegendRow>

      {/* legend, right block */}
      <LegendRow x={561} y={700} marker={circ(550, 700, '#555')}>
        F<span style={subStyle}>L</span>, H1 2013
      </LegendRow>
      <LegendRow x={561} y={717} marker={sq(550, 717, '#555', true, 7)}>
        F<span style={subStyle}>2</span>, H1 2013
      </LegendRow>
      <LegendRow x={561} y={734} marker={circ(550, 734, '#5a5ae6')}>
        F<span style={subStyle}>L</span>, ZEUS 2014
      </LegendRow>
      <LegendRow x={561} y={752} marker={sq(550, 752, '#5a5ae6', true, 7)}>
        F<span style={subStyle}>2</span>, ZEUS 2014
      </LegendRow>
    </div>
  );
}
